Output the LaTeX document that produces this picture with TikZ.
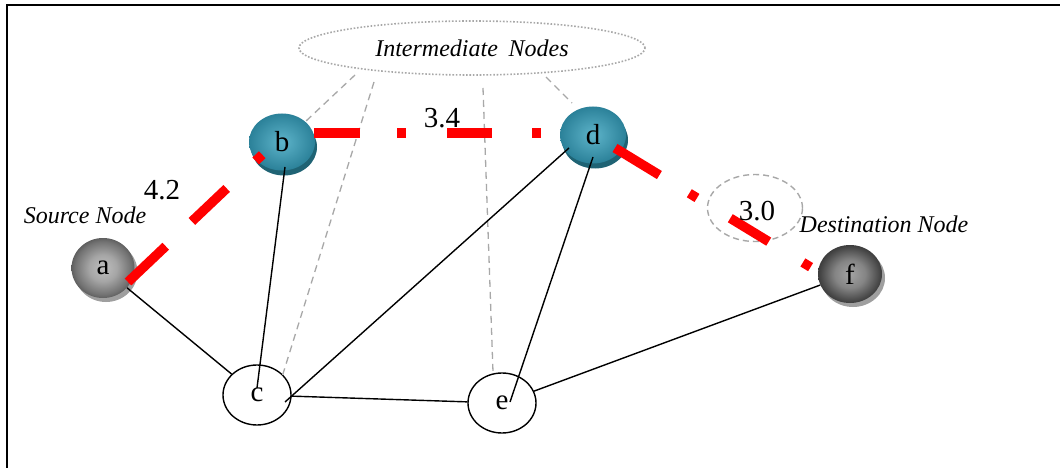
\documentclass[tikz,border=0pt]{standalone}
\usepackage{fontspec}
\setmainfont{Liberation Serif}
\usetikzlibrary{shapes.geometric,calc,shadows}
\definecolor{tealin}{HTML}{5EB4CA}
\definecolor{tealout}{HTML}{2B8199}
\definecolor{tealrim}{HTML}{1F6374}
\definecolor{redline}{HTML}{FF0000}
\definecolor{dashgray}{HTML}{A8A8A8}
\pgfdeclareradialshading{spherea}{\pgfpoint{0bp}{0bp}}{color(0bp)=(black!25); color(11bp)=(black!35); color(22bp)=(black!55); color(30bp)=(black!75); color(35bp)=(black!86); color(50bp)=(black!86)}
\pgfdeclareradialshading{spheref}{\pgfpoint{0bp}{0bp}}{color(0bp)=(black!36); color(12bp)=(black!48); color(23bp)=(black!72); color(31bp)=(black!88); color(35bp)=(black!94); color(50bp)=(black!94)}
\newcommand{\lowtext}[1]{\raisebox{-3pt}{#1}}
\begin{document}
\begin{tikzpicture}[x=1pt,y=-1pt,
  num/.style={font=\fontsize{29}{29}\selectfont},
  ital/.style={font=\fontsize{24}{24}\selectfont\itshape},
  plainnode/.style={draw, ellipse, line width=1.4pt, fill=white, inner sep=0pt,
    minimum width=68pt, minimum height=60pt, font=\fontsize{29}{29}\selectfont},
  tealnode/.style={ellipse, inner sep=0pt, minimum width=66pt, minimum height=57pt,
    inner color=tealin, outer color=tealout,
    drop shadow={shadow xshift=2pt, shadow yshift=-5pt, opacity=1, fill=tealrim},
    font=\fontsize{29}{29}\selectfont},
  graynode/.style={ellipse, inner sep=0pt, minimum width=63pt, minimum height=60pt,
    drop shadow={shadow xshift=3pt, shadow yshift=-4pt, opacity=1, fill=gray!75},
    font=\fontsize{29}{29}\selectfont},
  link/.style={line width=1.4pt, black},
  hint/.style={line width=1.3pt, dashgray, dash pattern=on 7pt off 5pt},
  route/.style={line width=9.5pt, redline, line cap=butt},
  frame/.style={line width=2pt, black}
]
\useasboundingbox (0,0) rectangle (1060,468);
\fill[white] (0,0) rectangle (1060,468);
\draw[frame] (1060,5) -- (7,5) -- (7,468);

% annotation ellipses
\node[ellipse, draw=dashgray, line width=1.6pt, dash pattern=on 1.6pt off 1.8pt,
      minimum width=346pt, minimum height=54pt, inner sep=0pt, ital] (inter) at (472,48)
      {Intermediate\hspace{0.45em}Nodes};
\node[ellipse, draw=dashgray, line width=1.4pt, dash pattern=on 6pt off 4pt,
      minimum width=95pt, minimum height=67pt, inner sep=0pt] (ring) at (755,208) {};

% nodes
\node[graynode, shading=spherea] (a) at (103,268) {\lowtext{a}};
\node[tealnode] (b) at (282,142) {\lowtext{b}};
\node[tealnode] (d) at (593,135) {\lowtext{d}};
\node[graynode, shading=spheref, minimum width=64pt, minimum height=58pt] (f) at (850,274) {\lowtext{f}};
\node[plainnode] (c) at (257,395) {\lowtext{c}};
\node[plainnode] (e) at (502,403) {\lowtext{e}};

% gray hints from intermediate label
\draw[hint] ($(inter.center)+(-117,27)$) -- ($(b.center)+(23,-20)$);
\draw[hint] ($(inter.center)+(-98,34)$) -- ($(c.center)+(25,-18)$);
\draw[hint] ($(inter.center)+(11,40)$) -- ($(e.center)+(-9,-31)$);
\draw[hint] ($(inter.center)+(74,29)$) -- ($(d.center)+(-21,-32)$);

% black links
\draw[link] (a) -- (c);
\draw[link] ($(b.center)+(3,25)$) -- ($(c.center)+(0,-7)$);
\draw[link] ($(d.center)+(-24,13)$) -- ($(c.center)+(28,7)$);
\draw[link] ($(d.center)+(0,22)$) -- ($(e.center)+(8,-1)$);
\draw[link] (c) -- (e);
\draw[link] (e) -- (f);

% red route
\draw[route, dash pattern=on 52pt off 36pt on 48pt off 40pt on 9pt off 60pt]
  ($(a.center)+(25,14)$) -- ($(b.center)+(-19,12)$);
\draw[route, dash pattern=on 46pt off 37pt on 9pt off 41pt on 45pt off 40pt on 9pt off 60pt]
  ($(b.center)+(32,-9)$) -- ($(d.center)+(-51,-2)$);
\draw[route, dash pattern=on 52pt off 35pt on 9pt off 39pt on 45pt off 40pt on 9pt off 60pt]
  ($(d.center)+(22,13)$) -- ($(f.center)+(-38,-6)$);

% labels
\node[ital] (srclbl) at (85,215) {Source Node};
\node[ital] (dstlbl) at (884,224) {Destination Node};
\node[num] (w1) at (162,190) {4.2};
\node[num] (w2) at (442,118) {3.4};
\node[num] (w3) at (757,211) {3.0};
\end{tikzpicture}
\end{document}
